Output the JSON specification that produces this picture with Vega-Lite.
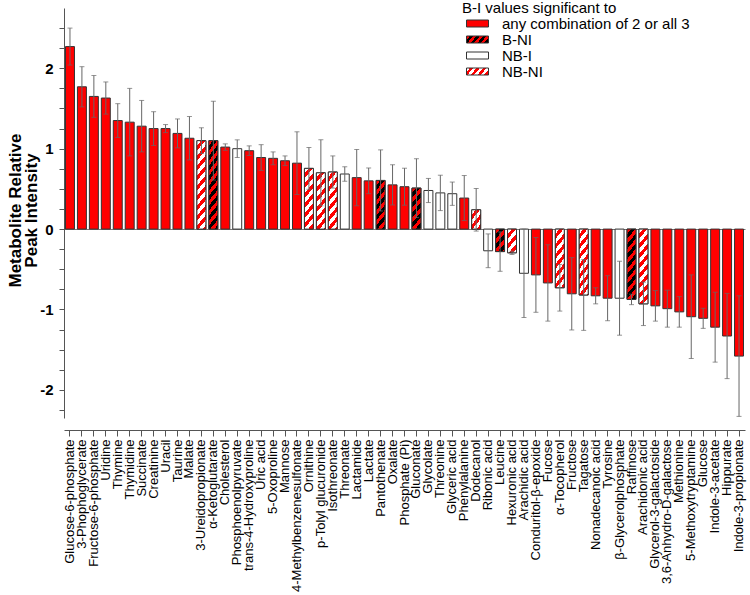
{
  "$schema": "https://vega.github.io/schema/vega-lite/v6.json",
  "width": 681,
  "height": 410,
  "autosize": "none",
  "padding": {"left": 64, "top": 8, "right": 5, "bottom": 177},
  "config": {"font": "Liberation Sans", "view": {"stroke": null}},
  "params": [
    {"name": "stripeB", "value": [{"offset":0,"color":"#ff0000"},{"offset":0.0417,"color":"#ff0000"},{"offset":0.0417,"color":"#000000"},{"offset":0.0833,"color":"#000000"},{"offset":0.0833,"color":"#ff0000"},{"offset":0.125,"color":"#ff0000"},{"offset":0.125,"color":"#000000"},{"offset":0.1667,"color":"#000000"},{"offset":0.1667,"color":"#ff0000"},{"offset":0.2083,"color":"#ff0000"},{"offset":0.2083,"color":"#000000"},{"offset":0.25,"color":"#000000"},{"offset":0.25,"color":"#ff0000"},{"offset":0.2917,"color":"#ff0000"},{"offset":0.2917,"color":"#000000"},{"offset":0.3333,"color":"#000000"},{"offset":0.3333,"color":"#ff0000"},{"offset":0.375,"color":"#ff0000"},{"offset":0.375,"color":"#000000"},{"offset":0.4167,"color":"#000000"},{"offset":0.4167,"color":"#ff0000"},{"offset":0.4583,"color":"#ff0000"},{"offset":0.4583,"color":"#000000"},{"offset":0.5,"color":"#000000"},{"offset":0.5,"color":"#ff0000"},{"offset":0.5417,"color":"#ff0000"},{"offset":0.5417,"color":"#000000"},{"offset":0.5833,"color":"#000000"},{"offset":0.5833,"color":"#ff0000"},{"offset":0.625,"color":"#ff0000"},{"offset":0.625,"color":"#000000"},{"offset":0.6667,"color":"#000000"},{"offset":0.6667,"color":"#ff0000"},{"offset":0.7083,"color":"#ff0000"},{"offset":0.7083,"color":"#000000"},{"offset":0.75,"color":"#000000"},{"offset":0.75,"color":"#ff0000"},{"offset":0.7917,"color":"#ff0000"},{"offset":0.7917,"color":"#000000"},{"offset":0.8333,"color":"#000000"},{"offset":0.8333,"color":"#ff0000"},{"offset":0.875,"color":"#ff0000"},{"offset":0.875,"color":"#000000"},{"offset":0.9167,"color":"#000000"},{"offset":0.9167,"color":"#ff0000"},{"offset":0.9583,"color":"#ff0000"},{"offset":0.9583,"color":"#000000"},{"offset":1,"color":"#000000"}]},
    {"name": "stripeN", "value": [{"offset":0,"color":"#ffffff"},{"offset":0.0417,"color":"#ffffff"},{"offset":0.0417,"color":"#ff0000"},{"offset":0.0833,"color":"#ff0000"},{"offset":0.0833,"color":"#ffffff"},{"offset":0.125,"color":"#ffffff"},{"offset":0.125,"color":"#ff0000"},{"offset":0.1667,"color":"#ff0000"},{"offset":0.1667,"color":"#ffffff"},{"offset":0.2083,"color":"#ffffff"},{"offset":0.2083,"color":"#ff0000"},{"offset":0.25,"color":"#ff0000"},{"offset":0.25,"color":"#ffffff"},{"offset":0.2917,"color":"#ffffff"},{"offset":0.2917,"color":"#ff0000"},{"offset":0.3333,"color":"#ff0000"},{"offset":0.3333,"color":"#ffffff"},{"offset":0.375,"color":"#ffffff"},{"offset":0.375,"color":"#ff0000"},{"offset":0.4167,"color":"#ff0000"},{"offset":0.4167,"color":"#ffffff"},{"offset":0.4583,"color":"#ffffff"},{"offset":0.4583,"color":"#ff0000"},{"offset":0.5,"color":"#ff0000"},{"offset":0.5,"color":"#ffffff"},{"offset":0.5417,"color":"#ffffff"},{"offset":0.5417,"color":"#ff0000"},{"offset":0.5833,"color":"#ff0000"},{"offset":0.5833,"color":"#ffffff"},{"offset":0.625,"color":"#ffffff"},{"offset":0.625,"color":"#ff0000"},{"offset":0.6667,"color":"#ff0000"},{"offset":0.6667,"color":"#ffffff"},{"offset":0.7083,"color":"#ffffff"},{"offset":0.7083,"color":"#ff0000"},{"offset":0.75,"color":"#ff0000"},{"offset":0.75,"color":"#ffffff"},{"offset":0.7917,"color":"#ffffff"},{"offset":0.7917,"color":"#ff0000"},{"offset":0.8333,"color":"#ff0000"},{"offset":0.8333,"color":"#ffffff"},{"offset":0.875,"color":"#ffffff"},{"offset":0.875,"color":"#ff0000"},{"offset":0.9167,"color":"#ff0000"},{"offset":0.9167,"color":"#ffffff"},{"offset":0.9583,"color":"#ffffff"},{"offset":0.9583,"color":"#ff0000"},{"offset":1,"color":"#ff0000"}]}
  ],
  "data": {"values": [
    {"m": "Glucose-6-phosphate", "v": 2.27, "e": 0.23, "sig": "any combination of 2 or all 3"},
    {"m": "3-Phophoglycerate", "v": 1.77, "e": 0.25, "sig": "any combination of 2 or all 3"},
    {"m": "Fructose-6-phosphate", "v": 1.65, "e": 0.26, "sig": "any combination of 2 or all 3"},
    {"m": "Uridine", "v": 1.63, "e": 0.2, "sig": "any combination of 2 or all 3"},
    {"m": "Thymine", "v": 1.35, "e": 0.21, "sig": "any combination of 2 or all 3"},
    {"m": "Thymidine", "v": 1.33, "e": 0.42, "sig": "any combination of 2 or all 3"},
    {"m": "Succinate", "v": 1.28, "e": 0.32, "sig": "any combination of 2 or all 3"},
    {"m": "Creatinine", "v": 1.25, "e": 0.21, "sig": "any combination of 2 or all 3"},
    {"m": "Uracil", "v": 1.25, "e": 0.05, "sig": "any combination of 2 or all 3"},
    {"m": "Taurine", "v": 1.19, "e": 0.18, "sig": "any combination of 2 or all 3"},
    {"m": "Malate", "v": 1.13, "e": 0.27, "sig": "any combination of 2 or all 3"},
    {"m": "3-Ureidopropionate", "v": 1.1, "e": 0.16, "sig": "NB-NI"},
    {"m": "α-Ketoglutarate", "v": 1.1, "e": 0.49, "sig": "B-NI"},
    {"m": "Cholesterol", "v": 1.02, "e": 0.04, "sig": "any combination of 2 or all 3"},
    {"m": "Phosphoenolpyruvate", "v": 1.0, "e": 0.11, "sig": "NB-I"},
    {"m": "trans-4-Hydroxyproline", "v": 0.975, "e": 0.06, "sig": "any combination of 2 or all 3"},
    {"m": "Uric acid", "v": 0.89, "e": 0.16, "sig": "any combination of 2 or all 3"},
    {"m": "5-Oxoproline", "v": 0.88, "e": 0.08, "sig": "any combination of 2 or all 3"},
    {"m": "Mannose", "v": 0.85, "e": 0.06, "sig": "any combination of 2 or all 3"},
    {"m": "4-Methylbenzenesulfonate", "v": 0.82, "e": 0.39, "sig": "any combination of 2 or all 3"},
    {"m": "Ornithine", "v": 0.755, "e": 0.26, "sig": "NB-NI"},
    {"m": "p-Tolyl glucuronide", "v": 0.7, "e": 0.41, "sig": "NB-NI"},
    {"m": "Isothreonate", "v": 0.71, "e": 0.2, "sig": "NB-NI"},
    {"m": "Threonate", "v": 0.685, "e": 0.09, "sig": "NB-I"},
    {"m": "Lactamide", "v": 0.64, "e": 0.35, "sig": "any combination of 2 or all 3"},
    {"m": "Lactate", "v": 0.6, "e": 0.16, "sig": "any combination of 2 or all 3"},
    {"m": "Pantothenate", "v": 0.605, "e": 0.38, "sig": "B-NI"},
    {"m": "Oxalate", "v": 0.55, "e": 0.25, "sig": "any combination of 2 or all 3"},
    {"m": "Phosphate (Pi)", "v": 0.527, "e": 0.23, "sig": "any combination of 2 or all 3"},
    {"m": "Gluconate", "v": 0.51, "e": 0.365, "sig": "B-NI"},
    {"m": "Glycolate", "v": 0.48, "e": 0.15, "sig": "NB-I"},
    {"m": "Threonine", "v": 0.45, "e": 0.22, "sig": "NB-I"},
    {"m": "Glyceric acid", "v": 0.44, "e": 0.145, "sig": "NB-I"},
    {"m": "Phenylalanine", "v": 0.386, "e": 0.28, "sig": "any combination of 2 or all 3"},
    {"m": "Dodecanol", "v": 0.24, "e": 0.265, "sig": "NB-NI"},
    {"m": "Ribonic acid", "v": -0.27, "e": 0.21, "sig": "NB-I"},
    {"m": "Leucine", "v": -0.28, "e": 0.245, "sig": "B-NI"},
    {"m": "Hexuronic acid", "v": -0.295, "e": 0.02, "sig": "NB-NI"},
    {"m": "Arachidic acid", "v": -0.55, "e": 0.55, "sig": "NB-I"},
    {"m": "Conduritol-β-epoxide", "v": -0.57, "e": 0.465, "sig": "any combination of 2 or all 3"},
    {"m": "Fucose", "v": -0.67, "e": 0.475, "sig": "any combination of 2 or all 3"},
    {"m": "α-Tocopherol", "v": -0.73, "e": 0.29, "sig": "NB-NI"},
    {"m": "Fructose", "v": -0.805, "e": 0.45, "sig": "any combination of 2 or all 3"},
    {"m": "Tagatose", "v": -0.82, "e": 0.44, "sig": "NB-NI"},
    {"m": "Nonadecanoic acid", "v": -0.83, "e": 0.1, "sig": "any combination of 2 or all 3"},
    {"m": "Tyrosine", "v": -0.86, "e": 0.28, "sig": "any combination of 2 or all 3"},
    {"m": "β-Glycerolphosphate", "v": -0.86, "e": 0.46, "sig": "NB-I"},
    {"m": "Raffinose", "v": -0.875, "e": 0.065, "sig": "B-NI"},
    {"m": "Arachidonic acid", "v": -0.93, "e": 0.27, "sig": "NB-NI"},
    {"m": "Glycerol-3-galactoside", "v": -0.955, "e": 0.19, "sig": "any combination of 2 or all 3"},
    {"m": "3,6-Anhydro-D-galactose", "v": -0.99, "e": 0.23, "sig": "any combination of 2 or all 3"},
    {"m": "Methionine", "v": -1.03, "e": 0.19, "sig": "any combination of 2 or all 3"},
    {"m": "5-Methoxytryptamine", "v": -1.09, "e": 0.52, "sig": "any combination of 2 or all 3"},
    {"m": "Glucose", "v": -1.11, "e": 0.125, "sig": "any combination of 2 or all 3"},
    {"m": "Indole-3-acetate", "v": -1.22, "e": 0.435, "sig": "any combination of 2 or all 3"},
    {"m": "Hippurate", "v": -1.33, "e": 0.53, "sig": "any combination of 2 or all 3"},
    {"m": "Indole-3-propionate", "v": -1.58, "e": 0.75, "sig": "any combination of 2 or all 3"}
  ]},
  "encoding": {
    "x": {"field": "m", "type": "nominal", "sort": null,
      "scale": {"paddingInner": 0.25, "paddingOuter": 0.125},
      "axis": {"title": null, "labelAngle": 270, "labelFontSize": 13, "labelColor": "#000000", "labelPadding": 3, "offset": 12, "tickSize": 6, "domainColor": "#555555", "tickColor": "#555555", "labelOverlap": false, "labelLimit": 300}},
    "y": {"field": "v", "type": "quantitative",
      "scale": {"domain": [-2.35, 2.75], "nice": false},
      "axis": {"title": ["Metabolite Relative", "Peak Intensity"], "titleFontSize": 17, "titleFontWeight": "bold", "titleColor": "#000000", "titleLineHeight": 16, "titleX": -57, "titleY": 202, "titleBaseline": "top",
        "values": [-2.25, -2, -1.75, -1.5, -1.25, -1, -0.75, -0.5, -0.25, 0, 0.25, 0.5, 0.75, 1, 1.25, 1.5, 1.75, 2, 2.25, 2.5],
        "labelExpr": "datum.value % 1 === 0 ? '' + datum.value : ''",
        "labelFontSize": 15, "labelFontWeight": "bold", "labelColor": "#000000", "labelPadding": 6, "tickSize": 5, "domainColor": "#555555", "tickColor": "#555555",
        "grid": true, "gridColor": "#777777", "gridOpacity": {"condition": {"test": "datum.value === 0", "value": 1}, "value": 0}}}
  },
  "layer": [
    {
      "mark": {"type": "bar", "stroke": "#333333", "strokeWidth": 1},
      "encoding": {
        "y2": {"datum": 0},
        "fill": {"field": "sig", "type": "nominal",
          "scale": {"domain": ["any combination of 2 or all 3", "B-NI", "NB-I", "NB-NI"],
            "range": ["#ff0000", {"expr": "{gradient:'linear',x1:0,y1:0,x2:3.4,y2:0.9,stops:stripeB}"}, "#ffffff", {"expr": "{gradient:'linear',x1:0,y1:0,x2:3.4,y2:0.9,stops:stripeN}"}]},
          "legend": {"orient": "none", "legendX": 398, "legendY": -7, "title": "B-I values significant to", "titleFontSize": 15, "titleFontWeight": "normal", "titleColor": "#000000", "titlePadding": 0,
            "labelFontSize": 15, "labelColor": "#000000", "labelOffset": 17, "labelLimit": 300,
            "symbolType": "M-1.5714,-0.5H1.5714V0.5H-1.5714Z", "symbolSize": 196, "symbolStrokeColor": "#333333", "symbolStrokeWidth": 1, "symbolOffset": 8, "symbolOpacity": 1, "rowPadding": 0, "clipHeight": 15, "padding": 0}}
      }
    },
    {
      "transform": [{"filter": "datum.sig === 'B-NI' || datum.sig === 'NB-NI'"}],
      "mark": {"type": "bar", "stroke": "#333333", "strokeWidth": 1},
      "encoding": {
        "y2": {"datum": 0},
        "fill": {"value": {"expr": "{gradient:'linear',x1:0,y1:0,x2:144*bandwidth('x')/(1.44*pow(bandwidth('x'),2)+pow(scale('y',datum.v)-scale('y',0),2)),y2:120*abs(scale('y',datum.v)-scale('y',0))/(1.44*pow(bandwidth('x'),2)+pow(scale('y',datum.v)-scale('y',0),2)),stops:datum.sig==='B-NI'?stripeB:stripeN}"}}
      }
    },
    {
      "mark": {"type": "errorbar", "color": "#666666", "thickness": 1, "ticks": {"size": 5}},
      "encoding": {
        "yError": {"field": "e"}
      }
    }
  ]
}
